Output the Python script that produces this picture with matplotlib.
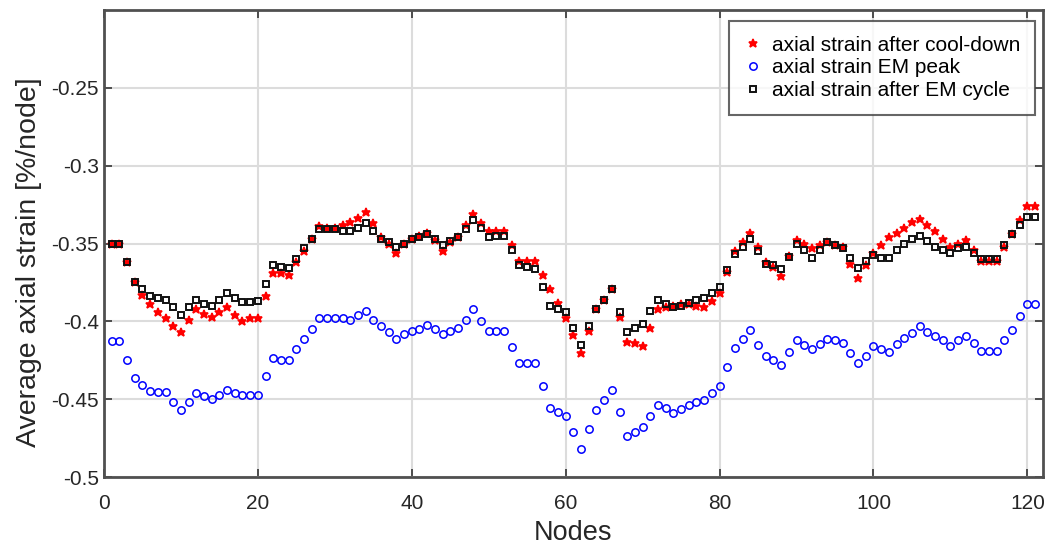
import numpy as np
import matplotlib
matplotlib.use('Agg')
import matplotlib.pyplot as plt

plt.rcParams['font.family'] = ['Liberation Sans', 'DejaVu Sans']

nodes = np.arange(1, 122)

# axial strain after cool-down (red stars)
cool_down = [
    -0.350, -0.350, -0.362, -0.375, -0.383, -0.389, -0.394, -0.398, -0.403, -0.407,
    -0.399, -0.392, -0.395, -0.397, -0.394, -0.391, -0.396, -0.400, -0.398, -0.398,
    -0.384, -0.369, -0.369, -0.370, -0.362, -0.355, -0.347, -0.339, -0.340, -0.340,
    -0.338, -0.336, -0.3335, -0.330, -0.337, -0.346, -0.350, -0.356, -0.350, -0.347,
    -0.345, -0.343, -0.348, -0.355, -0.349, -0.346, -0.338, -0.331, -0.337, -0.342,
    -0.342, -0.342, -0.351, -0.361, -0.361, -0.361, -0.370, -0.379, -0.388, -0.398,
    -0.409, -0.420, -0.406, -0.392, -0.386, -0.379, -0.397, -0.413, -0.414, -0.416,
    -0.404, -0.392, -0.391, -0.390, -0.389, -0.389, -0.390, -0.391, -0.387, -0.382,
    -0.368, -0.355, -0.349, -0.343, -0.352, -0.362, -0.365, -0.371, -0.358, -0.348,
    -0.350, -0.353, -0.351, -0.349, -0.351, -0.352, -0.363, -0.372, -0.364, -0.356,
    -0.351, -0.346, -0.343, -0.340, -0.336, -0.334, -0.338, -0.342, -0.347, -0.352,
    -0.350, -0.348, -0.354, -0.361, -0.361, -0.361, -0.352, -0.344, -0.335, -0.326,
    -0.326]

# axial strain at EM peak (blue circles)
em_peak = [
    -0.4125, -0.4125, -0.4245, -0.4365, -0.4406, -0.4449, -0.4455, -0.4455, -0.4515, -0.4567,
    -0.4515, -0.446, -0.448, -0.450, -0.447, -0.444, -0.446, -0.447, -0.447, -0.447,
    -0.435, -0.4236, -0.425, -0.425, -0.418, -0.411, -0.405, -0.398, -0.398, -0.398,
    -0.398, -0.399, -0.396, -0.3934, -0.399, -0.403, -0.407, -0.411, -0.408, -0.406,
    -0.405, -0.402, -0.405, -0.408, -0.406, -0.404, -0.399, -0.392, -0.400, -0.406,
    -0.406, -0.406, -0.4165, -0.4266, -0.427, -0.427, -0.4416, -0.4554, -0.458, -0.4605,
    -0.471, -0.482, -0.469, -0.4567, -0.4504, -0.444, -0.4584, -0.4734, -0.4708, -0.468,
    -0.461, -0.4537, -0.4558, -0.459, -0.456, -0.4535, -0.452, -0.4504, -0.446, -0.4416,
    -0.4294, -0.417, -0.4116, -0.4058, -0.415, -0.4223, -0.425, -0.4277, -0.4197, -0.412,
    -0.415, -0.418, -0.4144, -0.411, -0.412, -0.4137, -0.420, -0.4268, -0.422, -0.4155,
    -0.4176, -0.4197, -0.4144, -0.4107, -0.4073, -0.4032, -0.4069, -0.4094, -0.4122, -0.4155,
    -0.4122, -0.4094, -0.4137, -0.4187, -0.4187, -0.4187, -0.4122, -0.4054, -0.3966, -0.3886,
    -0.3886]

# axial strain after EM cycle (black squares)
after_em = [
    -0.350, -0.350, -0.362, -0.375, -0.379, -0.384, -0.385, -0.386, -0.391, -0.396,
    -0.391, -0.3865, -0.389, -0.390, -0.386, -0.382, -0.385, -0.3875, -0.3875, -0.387,
    -0.376, -0.364, -0.365, -0.366, -0.360, -0.353, -0.347, -0.341, -0.341, -0.341,
    -0.342, -0.342, -0.340, -0.337, -0.342, -0.347, -0.349, -0.352, -0.350, -0.347,
    -0.346, -0.344, -0.347, -0.351, -0.3485, -0.346, -0.341, -0.335, -0.340, -0.346,
    -0.345, -0.345, -0.354, -0.364, -0.365, -0.3665, -0.378, -0.390, -0.392, -0.394,
    -0.404, -0.415, -0.403, -0.392, -0.386, -0.379, -0.394, -0.407, -0.404, -0.4015,
    -0.393, -0.386, -0.389, -0.391, -0.390, -0.388, -0.386, -0.385, -0.3815, -0.378,
    -0.367, -0.357, -0.352, -0.347, -0.355, -0.363, -0.364, -0.3665, -0.3586, -0.350,
    -0.354, -0.359, -0.354, -0.349, -0.351, -0.353, -0.359, -0.366, -0.361, -0.3575,
    -0.359, -0.359, -0.354, -0.350, -0.347, -0.345, -0.3485, -0.352, -0.354, -0.356,
    -0.353, -0.352, -0.356, -0.360, -0.360, -0.360, -0.351, -0.344, -0.338, -0.333,
    -0.333]

labels = ['axial strain after cool-down', 'axial strain EM peak', 'axial strain after EM cycle']
x_ticks = [0, 20, 40, 60, 80, 100, 120]
y_ticks = [-0.5, -0.45, -0.4, -0.35, -0.3, -0.25]
y_ticklabels = ['-0.5', '-0.45', '-0.4', '-0.35', '-0.3', '-0.25']

fig = plt.figure(figsize=(10.48, 5.46), dpi=100)
ax = fig.add_axes([0.0992, 0.126, 0.8958, 0.856])

ax.plot(nodes, cool_down, linestyle='none', marker='*', color='#ff0000',
        markersize=6.3, markeredgewidth=1.2, label=labels[0])
ax.plot(nodes, em_peak, linestyle='none', marker='o', color='#0000ff',
        markerfacecolor='none', markersize=5.3, markeredgewidth=1.1, label=labels[1])
ax.plot(nodes, after_em, linestyle='none', marker='s', color='#111111',
        markerfacecolor='none', markersize=4.8, markeredgewidth=1.4, label=labels[2])

ax.set_xlim(0, 122)
ax.set_ylim(-0.5, -0.2)
ax.set_xticks(x_ticks)
ax.set_yticks(y_ticks)
ax.set_yticklabels(y_ticklabels)
ax.grid(True, color='#dcdcdc', linewidth=1.5)
ax.set_axisbelow(True)

ax.tick_params(direction='in', length=6, width=1.3, top=True, right=True,
               labelsize=15, colors='#404040', labelcolor='#262626')
ax.tick_params(axis='x', pad=12)
for s in ax.spines.values():
    s.set_color('#505050')
    s.set_linewidth(2)

ax.set_xlabel('Nodes', fontsize=19.5, color='#262626', labelpad=5)
ax.set_ylabel('Average axial strain [%/node]', fontsize=20.5, color='#262626')
ax.yaxis.set_label_coords(-0.066, 0.46)

leg = ax.legend(loc='upper right', bbox_to_anchor=(0.9915, 0.976), fontsize=15,
                frameon=True, fancybox=False, handlelength=0.9, handletextpad=0.45,
                borderpad=0.7, borderaxespad=0, labelspacing=0.18)
leg.get_frame().set_edgecolor('#404040')
leg.get_frame().set_linewidth(1.5)

plt.savefig('out.png', dpi=100)
